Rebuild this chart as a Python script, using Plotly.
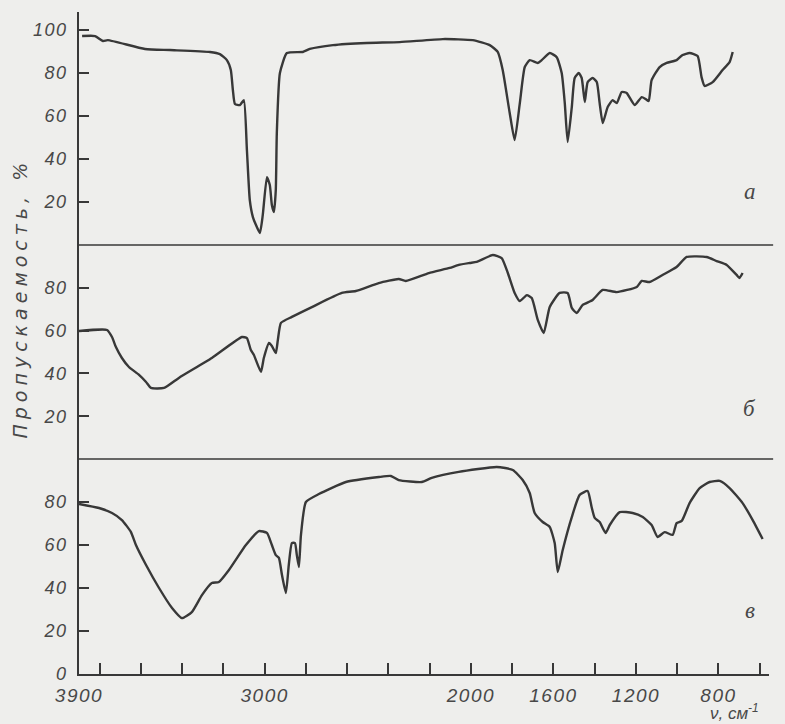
import plotly.graph_objects as go

# ---------------- data (wavenumber, cm^-1 ; transmittance, %) ----------------
wn_a = [3885, 3822, 3784, 3760, 3580, 3459, 3265, 3217, 3183, 3164, 3154, 3144, 3120, 3101,
        3086, 3072, 3057, 3042, 3023, 3009, 2989, 2975, 2965, 2955, 2946, 2941, 2926, 2892,
        2815, 2781, 2669, 2505, 2345, 2136, 1991, 1909, 1870, 1846, 1812, 1788, 1763, 1739,
        1715, 1676, 1657, 1618, 1584, 1560, 1545, 1531, 1511, 1497, 1477, 1463, 1448, 1434,
        1410, 1390, 1376, 1361, 1337, 1313, 1293, 1269, 1245, 1206, 1172, 1153, 1138, 1124,
        1085, 1051, 1003, 974, 940, 901, 882, 867, 828, 780, 746, 731]
T_a = [97.2, 97.2, 94.9, 95.3, 91.2, 90.7, 89.8, 88.8, 86.0, 81.4, 72.1, 65.6, 65.1, 67.4,
       44.2, 20.9, 13.0, 9.3, 5.6, 14.0, 31.6, 27.9, 18.6, 15.3, 25.6, 52.1, 80.0, 89.3,
       89.8, 91.2, 93.0, 94.0, 94.4, 95.8, 95.3, 93.0, 89.8, 81.4, 61.4, 48.8, 66.0, 82.8,
       86.0, 84.7, 86.0, 89.3, 87.4, 80.0, 66.0, 47.9, 64.2, 77.7, 80.0, 77.7, 66.5, 75.8,
       77.7, 75.8, 66.0, 56.7, 64.2, 67.4, 66.0, 71.2, 70.7, 65.1, 68.8, 67.9, 67.0, 76.7,
       82.8, 84.7, 86.0, 88.4, 89.3, 87.9, 78.1, 74.0, 75.8, 81.4, 85.1, 89.8]

wn_b = [3900, 3764, 3740, 3721, 3692, 3658, 3609, 3575, 3551, 3488, 3416, 3256, 3110, 3086,
        3067, 3052, 3018, 3004, 2979, 2965, 2946, 2936, 2921, 2868, 2771, 2626, 2558, 2447,
        2350, 2316, 2204, 2103, 2059, 2006, 1972, 1894, 1851, 1821, 1788, 1763, 1729, 1705,
        1676, 1647, 1618, 1570, 1531, 1511, 1487, 1458, 1410, 1361, 1293, 1196, 1172, 1134,
        1071, 1003, 954, 857, 809, 760, 712, 698, 683]
T_b = [59.8, 60.3, 57.0, 52.3, 47.2, 43.0, 39.3, 36.0, 33.2, 33.2, 37.9, 47.2, 57.0, 56.5,
       50.9, 48.6, 40.7, 47.2, 54.2, 52.8, 49.5, 55.6, 63.6, 66.4, 71.0, 77.6, 78.5, 82.2,
       84.1, 83.2, 86.9, 89.3, 90.7, 91.6, 92.1, 95.3, 93.9, 86.9, 77.6, 73.8, 76.6, 75.2,
       65.0, 58.9, 71.0, 77.6, 77.6, 70.6, 68.2, 72.0, 74.3, 79.0, 78.0, 80.4, 83.2, 82.7,
       86.0, 89.7, 94.4, 94.4, 92.5, 90.7, 86.0, 84.6, 86.9]

wn_c = [3900, 3803, 3740, 3692, 3648, 3624, 3575, 3512, 3449, 3401, 3353, 3304, 3256, 3222,
        3173, 3091, 3028, 2989, 2965, 2946, 2931, 2916, 2897, 2883, 2868, 2853, 2844, 2834,
        2824, 2800, 2737, 2606, 2446, 2388, 2350, 2238, 2190, 2059, 1875, 1797, 1749, 1715,
        1691, 1652, 1618, 1594, 1579, 1555, 1511, 1473, 1434, 1415, 1400, 1376, 1347, 1327,
        1279, 1216, 1167, 1124, 1095, 1061, 1022, 1003, 978, 940, 891, 843, 794, 746, 683,
        634, 586]
T_c = [79.1, 77.2, 74.9, 71.6, 66.0, 60.0, 50.7, 40.0, 30.7, 26.0, 28.8, 36.7, 42.3, 42.8,
       48.4, 60.0, 66.5, 65.6, 60.0, 55.3, 54.0, 46.0, 37.7, 50.7, 60.9, 60.9, 55.3, 49.8,
       64.7, 80.0, 83.7, 89.3, 91.6, 92.1, 90.2, 89.3, 91.2, 94.0, 96.3, 94.9, 90.2, 84.2,
       74.9, 70.7, 68.4, 60.9, 47.4, 57.7, 73.0, 83.3, 85.1, 77.7, 72.6, 70.7, 65.6, 69.3,
       75.3, 74.9, 73.0, 69.3, 63.7, 66.0, 64.7, 70.2, 71.2, 79.5, 86.5, 89.3, 89.8, 86.5,
       79.5, 71.6, 62.8]

x_label_vals = [3900, 3000, 2000, 1600, 1200, 800]
x_label_text = ["3900", "3000", "2000", "1600", "1200", "800"]
x_minor_ticks = [3800, 3600, 3400, 3200, 3000, 2800, 2600, 2400, 2200, 2000, 1800, 1600,
                 1400, 1200, 1000, 800, 600]
ya_ticks = [20, 40, 60, 80, 100]
yb_ticks = [20, 40, 60, 80]
yc_ticks = [0, 20, 40, 60, 80]
panel_labels = ["а", "б", "в"]
y_title = "Пропускаемость, %"
x_title = "ν, см<sup>-1</sup>"

# ---------------- styling ----------------
BG = "#eeeeec"
INK = "#383838"
TXT = "#484848"
tick_font = dict(family="Liberation Sans, Arial, sans-serif", size=18, color=TXT, style="italic")

# pixel layout helpers (figure 785x724, plot area from y=12 to y=674)
PLOT_H = 662.0
def py(ypx):
    return (674 - ypx) / PLOT_H

fig = go.Figure()
line = dict(color=INK, width=2.4, shape="spline", smoothing=0.5)
fig.add_trace(go.Scatter(x=wn_a, y=T_a, mode="lines", line=line, xaxis="x", yaxis="y", showlegend=False))
fig.add_trace(go.Scatter(x=wn_b, y=T_b, mode="lines", line=line, xaxis="x", yaxis="y2", showlegend=False))
fig.add_trace(go.Scatter(x=wn_c, y=T_c, mode="lines", line=line, xaxis="x", yaxis="y3", showlegend=False))

d1 = py(459)
d2 = py(245)

yaxis_common = dict(showgrid=False, zeroline=False, showline=True, linecolor=INK, linewidth=1.6,
                    ticks="inside", ticklen=10, tickwidth=1.6, tickcolor=INK, tickfont=tick_font,
                    anchor="x", ticklabelstandoff=6, automargin=False)

fig.update_layout(
    width=785, height=724,
    margin=dict(l=79, r=16, t=12, b=50, autoexpand=False),
    paper_bgcolor=BG, plot_bgcolor=BG,
    xaxis=dict(range=[3900, 555], showgrid=False, zeroline=False, showline=True, linecolor=INK,
               linewidth=1.6, ticks="inside", ticklen=11, tickwidth=1.6, tickcolor=INK,
               tickvals=x_label_vals, ticktext=x_label_text, tickfont=dict(tick_font, size=19),
               minor=dict(tickvals=x_minor_ticks, ticks="inside", ticklen=11, tickwidth=1.6,
                          tickcolor=INK, showgrid=False),
               anchor="y3", ticklabelstandoff=3, automargin=False),
    yaxis=dict(yaxis_common, domain=[d2, 1.0], range=[0, 108.4], tickvals=ya_ticks),
    yaxis2=dict(yaxis_common, domain=[d1, d2], range=[0, 100], tickvals=yb_ticks),
    yaxis3=dict(yaxis_common, domain=[0, d1], range=[0, 100], tickvals=yc_ticks),
)

for yv in (d1, d2):
    fig.add_shape(type="line", xref="paper", yref="paper", x0=0, x1=1.006, y0=yv, y1=yv,
                  line=dict(color=INK, width=1.6))

label_font = dict(family="Liberation Serif, serif", size=23, color=TXT, style="italic")
for lab, ypx in zip(panel_labels, [191, 408, 610]):
    fig.add_annotation(text=lab, xref="x", yref="paper", x=649, y=py(ypx), showarrow=False,
                       font=label_font, xanchor="center", yanchor="middle")

fig.add_annotation(text=y_title, xref="paper", yref="paper", x=0, y=py(298),
                   xshift=-59, textangle=-90, showarrow=False,
                   font=dict(family="DejaVu Sans, sans-serif", size=19, color=TXT, style="italic"),
                   xanchor="center", yanchor="middle")

fig.add_annotation(text=x_title, xref="x", yref="paper", x=722, y=py(724),
                   showarrow=False, font=dict(family="Liberation Sans, sans-serif", size=17,
                                               color=TXT, style="italic"),
                   xanchor="center", yanchor="bottom", borderpad=0)

post = """
document.documentElement.style.margin = '0';
document.body.style.margin = '0';
document.body.style.padding = '0';
document.body.style.background = '#eeeeec';
var gd = document.getElementById('{plot_id}');
function spaceTitle(){
  gd.querySelectorAll('text.annotation-text').forEach(function(t){
    if (t.textContent.indexOf('Пропуск') === 0) { t.style.letterSpacing = '5px'; }
  });
  gd.querySelectorAll('g.xtick text, g.ytick text, g.y2tick text, g.y3tick text').forEach(function(t){
    t.style.letterSpacing = '1.5px';
  });
}
spaceTitle();
if (gd.on) { gd.on('plotly_afterplot', spaceTitle); }
"""

fig.write_html("out.html", post_script=post, config={"displayModeBar": False})
